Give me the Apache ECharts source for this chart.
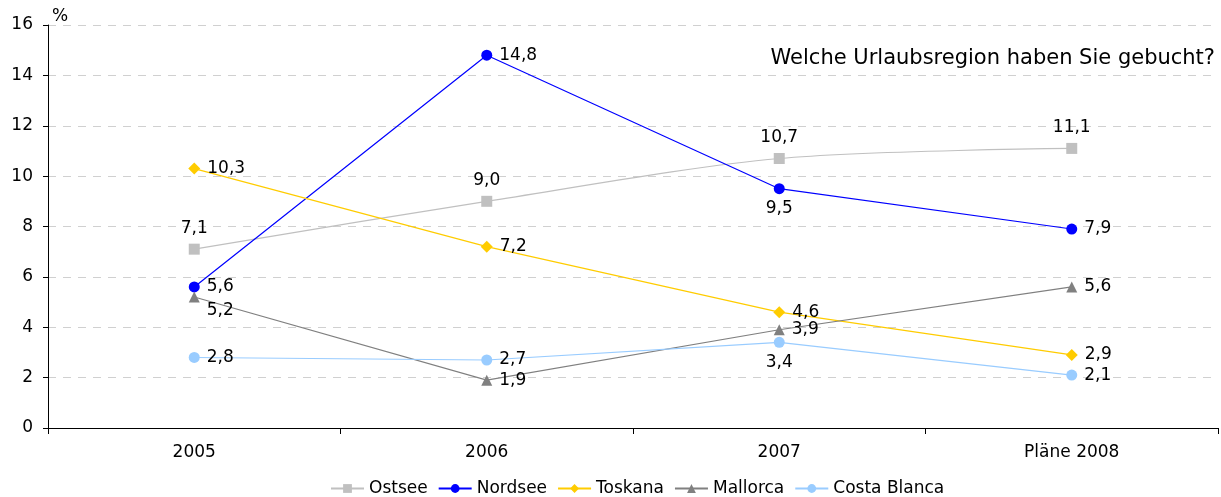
<!DOCTYPE html>
<html>
<head>
<meta charset="utf-8">
<script src="https://cdn.jsdelivr.net/npm/echarts@6/dist/echarts.min.js"></script>
<style>
  html, body { margin: 0; padding: 0; background: #fff; }
  #chart { width: 1221px; height: 497px; }
</style>
</head>
<body>
<div id="chart"></div>
<script>
const years = ["2005", "2006", "2007", "Pläne 2008"];
const ostsee = [7.1, 9.0, 10.7, 11.1];
const nordsee = [5.6, 14.8, 9.5, 7.9];
const toskana = [10.3, 7.2, 4.6, 2.9];
const mallorca = [5.2, 1.9, 3.9, 5.6];
const costaBlanca = [2.8, 2.7, 3.4, 2.1];

// label positions per point, like the original
const ostseePos = ["top", "top", "top", "top"];
const nordseePos = ["right", "right", "bottom", "right"];
const toskanaPos = ["right", "right", "right", "right"];
const mallorcaPos = ["right", "right", "right", "right"];
const costaPos = ["right", "right", "bottom", "right"];

const FONT = "DejaVu Sans";
const fmt = (v) => v.toFixed(1).replace(".", ",");

const makeSeries = (name, values, positions, color, symbol, size, extra) => ({
  name,
  type: "line",
  data: values.map((v, i) => {
    const label = { position: positions[i] };
    if (name === "Mallorca" && i === 0) label.offset = [0, 14];
    if (positions[i] === "bottom") label.distance = 6;
    return { value: v, label };
  }),
  symbol,
  symbolSize: size,
  lineStyle: { color, width: 1.2 },
  itemStyle: { color },
  label: {
    show: true,
    color: "#000",
    fontFamily: FONT,
    fontSize: 17,
    distance: 7,
    formatter: (p) => fmt(p.value),
  },
  emphasis: { disabled: true },
  ...extra,
});

const chart = echarts.init(document.getElementById("chart"));
chart.setOption({
  animation: false,
  title: {
    text: "Welche Urlaubsregion haben Sie gebucht?",
    right: 1,
    top: 43,
    textStyle: { fontFamily: FONT, fontSize: 21, fontWeight: "normal", color: "#000" },
  },
  legend: {
    bottom: -5,
    left: 325,
    itemWidth: 33,
    itemHeight: 11,
    itemGap: 10,
    textStyle: { fontFamily: FONT, fontSize: 17, color: "#000" },
    data: ["Ostsee", "Nordsee", "Toskana", "Mallorca", "Costa Blanca"],
  },
  grid: { left: 48, right: 3, top: 25, bottom: 69 },
  xAxis: {
    type: "category",
    data: years,
    boundaryGap: true,
    axisLine: { lineStyle: { color: "#000", width: 1 } },
    axisTick: { show: true, length: 6, lineStyle: { color: "#000" } },
    axisLabel: { fontFamily: FONT, fontSize: 17, color: "#000", margin: 16 },
  },
  yAxis: {
    type: "value",
    min: 0,
    max: 16,
    interval: 2,
    name: "%",
    nameGap: 0,
    nameTextStyle: { fontFamily: FONT, fontSize: 17, color: "#000", align: "left", padding: [0, 0, 0, 4] },
    axisLine: { show: true, lineStyle: { color: "#000", width: 1 } },
    axisTick: { show: true, length: 5, lineStyle: { color: "#000" } },
    axisLabel: { fontFamily: FONT, fontSize: 17, color: "#000", margin: 15 },
    splitLine: { lineStyle: { color: "#d0d0d0", type: [8, 7] } },
  },
  series: [
    makeSeries("Ostsee", ostsee, ostseePos, "#c0c0c0", "rect", 11, { smooth: 0.3 }),
    makeSeries("Nordsee", nordsee, nordseePos, "#0000ff", "circle", 11, {}),
    makeSeries("Toskana", toskana, toskanaPos, "#ffcc00", "diamond", 12, {}),
    makeSeries("Mallorca", mallorca, mallorcaPos, "#808080", "triangle", 11, {}),
    makeSeries("Costa Blanca", costaBlanca, costaPos, "#99ccff", "circle", 11, {}),
  ],
});
</script>
</body>
</html>
